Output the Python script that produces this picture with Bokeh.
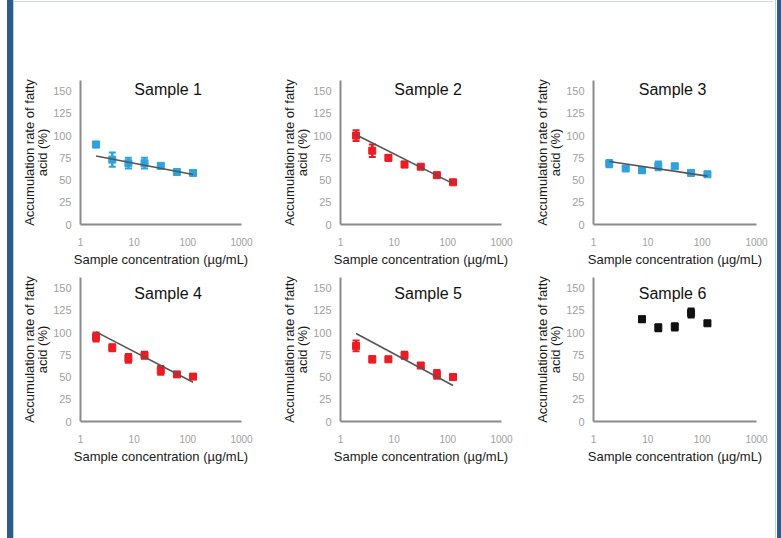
from bokeh.plotting import figure
from bokeh.layouts import row, column
from bokeh.models import Div, Label, FixedTicker, NumeralTickFormatter, Range1d
from bokeh.embed import file_html
from bokeh.resources import INLINE

# ---------------- data ----------------
conc = [1.95, 3.91, 7.81, 15.6, 31.3, 62.5, 125]
conc6 = [7.81, 15.6, 31.3, 62.5, 125]

titles = ["Sample 1", "Sample 2", "Sample 3", "Sample 4", "Sample 5", "Sample 6"]

s1 = [90, 73, 69, 69, 66, 59, 58]
s1_err = [3, 8, 6, 6, 2, 2, 2]
s1_trend = [77, 56.3]

s2 = [100, 83, 75, 67.5, 65, 55.5, 47.5]
s2_err = [6, 7, 3, 3, 2, 2, 2]
s2_trend = [101, 46]

s3 = [68.5, 63, 61, 66, 65.5, 58, 56.5]
s3_err = [4, 2, 3, 5, 2, 2, 2]
s3_trend = [70.8, 54.4]

s4 = [95, 83, 71, 74.5, 57.5, 53, 50.5]
s4_err = [5, 4, 5, 4, 5, 2, 2]
s4_trend = [100.8, 44.2]

s5 = [85, 70, 70, 74.5, 63, 53, 50]
s5_err = [6, 3.5, 2, 4, 2.5, 5, 2]
s5_trend = [99, 40.5]

s6 = [115, 105.5, 106.5, 122, 110.5]
s6_err = [3, 4, 4, 5, 2]

x_ticks = [1, 10, 100, 1000]
y_ticks = [0, 25, 50, 75, 100, 125, 150]

BLUE = "#2fa2de"
RED = "#ec1c24"
BLACK = "#111111"
FONT = "Liberation Sans"


def make_panel(title, xs, ys, errs, trend, color, width, height,
               mbl, mbr, mbt, mbb, title_x, title_y):
    p = figure(width=width, height=height, x_axis_type="log",
               x_range=Range1d(1, 1000), y_range=Range1d(0, 162),
               output_backend="svg", toolbar_location=None,
               min_border_left=mbl, min_border_right=mbr,
               min_border_top=mbt, min_border_bottom=mbb)
    p.outline_line_color = None
    p.xgrid.visible = False
    p.ygrid.visible = False
    p.background_fill_color = "white"
    p.border_fill_color = "white"

    for ax in (p.xaxis[0], p.yaxis[0]):
        ax.axis_line_color = "#8a8a8a"
        ax.axis_line_width = 2
        ax.major_tick_line_color = None
        ax.minor_tick_line_color = None
        ax.major_tick_out = 0
        ax.major_tick_in = 0
        ax.minor_tick_out = 0
        ax.minor_tick_in = 0
        ax.major_label_text_color = "#a0a0a0"
        ax.major_label_text_font = FONT
        ax.axis_label_text_font = FONT
        ax.axis_label_text_font_style = "normal"
        ax.axis_label_text_color = "#1a1a1a"
        ax.axis_label_text_font_size = "13px"

    p.xaxis.ticker = FixedTicker(ticks=x_ticks)
    p.xaxis.formatter = NumeralTickFormatter(format="0")
    p.xaxis.major_label_text_font_size = "10px"
    p.xaxis.major_label_standoff = 13
    p.xaxis.axis_label = "Sample concentration (\u00b5g/mL)"
    p.xaxis.axis_label_standoff = 3

    p.yaxis.ticker = FixedTicker(ticks=y_ticks)
    p.yaxis.major_label_text_font_size = "11px"
    p.yaxis.major_label_standoff = 9
    p.yaxis.axis_label = "Accumulation rate of fatty\nacid (%)"
    p.yaxis.axis_label_standoff = 0
    p.yaxis.axis_label_text_line_height = 0.85

    lo = [y - e for y, e in zip(ys, errs)]
    hi = [y + e for y, e in zip(ys, errs)]
    p.segment(x0=xs, y0=lo, x1=xs, y1=hi, line_color=color, line_width=2.5)
    p.scatter(x=xs, y=lo, marker="dash", size=7, line_color=color, line_width=2)
    p.scatter(x=xs, y=hi, marker="dash", size=7, line_color=color, line_width=2)
    p.scatter(x=xs, y=ys, marker="square", size=7, fill_color=color,
              line_color=color)

    if trend is not None:
        p.line(x=[xs[0], xs[-1]], y=trend, line_color="#555555", line_width=1.6)

    p.add_layout(Label(x=title_x, y=title_y, text=title, text_align="center",
                       text_baseline="middle", text_font=FONT,
                       text_font_size="16px", text_color="#111111"))
    return p


# column geometry: (figure width, min_border_left, min_border_right)
cols = [(260, 66, 33), (253, 66, 26), (246, 66, 17)]
title_xs = [43, 43, 28.5]

row1_h, row1_t, row1_b = 266, 77, 44
row2_h, row2_t, row2_b = 269, 8, 117

series = [
    (conc, s1, s1_err, s1_trend, BLUE),
    (conc, s2, s2_err, s2_trend, RED),
    (conc, s3, s3_err, s3_trend, BLUE),
    (conc, s4, s4_err, s4_trend, RED),
    (conc, s5, s5_err, s5_trend, RED),
    (conc6, s6, s6_err, None, BLACK),
]

panels = []
for i, (xs, ys, errs, trend, color) in enumerate(series):
    c = i % 3
    w, mbl, mbr = cols[c]
    if i < 3:
        h, mbt, mbb, ty = row1_h, row1_t, row1_b, 151.5
    else:
        h, mbt, mbb, ty = row2_h, row2_t, row2_b, 143.5
    panels.append(make_panel(titles[i], xs, ys, errs, trend, color, w, h,
                             mbl, mbr, mbt, mbb, title_xs[c], ty))

top_line = Div(width=759, height=3, margin=0, styles={
    "background": "linear-gradient(to bottom, #ffffff 0px, #ffffff 1px, #cdd6e0 1px, #cdd6e0 2px, #ffffff 2px)"})

grid = column(top_line,
              row(panels[0], panels[1], panels[2], spacing=0),
              row(panels[3], panels[4], panels[5], spacing=0), spacing=0)

left_bar = Div(width=14, height=538, margin=0, styles={
    "background": "linear-gradient(to right, #ffffff 0px, #ffffff 7px, #2d5b8c 7px, #2d5b8c 13px, #c3cfdc 13px, #c3cfdc 14px)"})
right_bar = Div(width=8, height=538, margin=0, styles={
    "background": "linear-gradient(to right, #ffffff 0px, #ffffff 2px, #c3cfdc 2px, #c3cfdc 3px, #ffffff 3px, #ffffff 4px, #2d5b8c 4px, #2d5b8c 8px)"})

layout = row(left_bar, grid, right_bar, spacing=0)

open("out.html", "w").write(file_html(layout, INLINE))
